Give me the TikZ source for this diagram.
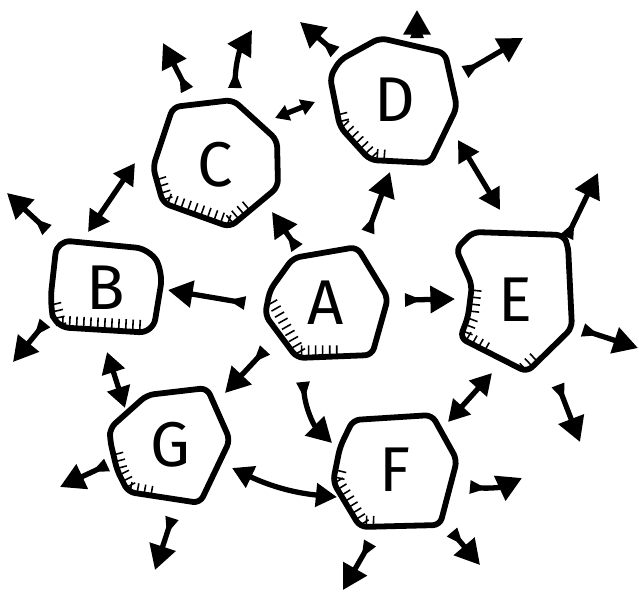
\documentclass[tikz,border=0pt]{standalone}
\usepackage{fontspec}
\setsansfont{Fira Sans}
\usetikzlibrary{arrows.meta, calc, decorations.pathreplacing}

\begin{document}
\begin{tikzpicture}[x=0.02cm, y=0.02cm,
  letter/.style={circle, inner sep=0pt, minimum size=2cm,
                 font=\sffamily\fontsize{36}{36}\selectfont},
  blob/.style={line width=3.3pt, line join=round, rounded corners=4pt},
  hatch/.style={line width=0.9pt, decorate,
                decoration={border, segment length=4pt, amplitude=6pt, angle=90}},
  arrow/.style={line width=3pt,
                {Triangle[reversed, length=10pt, width=7pt]}-{Triangle[length=14pt, width=15pt]}},
  twoway/.style={line width=3pt,
                 {Triangle[length=12pt, width=13pt]}-{Triangle[length=12pt, width=13pt]}}
]
\useasboundingbox (0,0) rectangle (639,-592);

% the seven nodes
\node[letter] (A) at (326,-303) {A};
\node[letter] (B) at (106,-288) {B};
\node[letter] (C) at (215,-165) {C};
\node[letter] (D) at (395,-100) {D};
\node[letter] (E) at (515,-300) {E};
\node[letter] (F) at (395,-470) {F};
\node[letter] (G) at (170,-445) {G};

% outlines
\draw[blob] (293,-258) -- (357,-247) -- (388,-298) -- (372,-355) -- (297,-358) -- (265,-315) -- (270,-290) -- cycle;
\draw[blob, rounded corners=8pt] (57,-240) -- (150,-249) -- (163,-272) -- (153,-333) -- (55,-327) -- (50,-303) -- cycle;
\draw[blob] (173,-107) -- (233,-100) -- (277,-140) -- (278,-187) -- (230,-227) -- (163,-203) -- (153,-167) -- cycle;
\draw[blob] (380,-38) -- (445,-53) -- (457,-107) -- (430,-163) -- (370,-160) -- (340,-127) -- (330,-77) -- (340,-60) -- cycle;
\draw[blob] (456,-249) -- (473,-232) -- (563,-235) -- (568,-245) -- (572,-328) -- (527,-372) -- (460,-338) -- (468,-317) -- (472,-285) -- cycle;
\draw[blob] (353,-420) -- (432,-415) -- (457,-460) -- (440,-525) -- (360,-527) -- (333,-482) -- (340,-447) -- cycle;
\draw[blob] (110,-428) -- (147,-395) -- (207,-388) -- (230,-440) -- (200,-503) -- (128,-492) -- (117,-470) -- (110,-440) -- cycle;

% shading
\draw[hatch] (268,-305) -- (297,-356) -- (350,-356);
\draw[hatch] (51,-305) -- (56,-326) -- (150,-331);
\draw[hatch] (156,-180) -- (163,-202) -- (230,-226) -- (255,-205);
\draw[hatch] (337,-115) -- (340,-127) -- (370,-159) -- (395,-161);
\draw[hatch] (471,-290) -- (468,-317) -- (460,-338) -- (495,-358);
\draw[hatch] (527,-371) -- (545,-354);
\draw[hatch] (336,-470) -- (333,-482) -- (360,-526) -- (385,-527);
\draw[hatch] (113,-455) -- (117,-470) -- (128,-492) -- (160,-498);

% out of A
\draw[arrow] ($(A)+(-81,0)$) -- ($(B)+(62,-2)$);
\draw[arrow] ($(A)+(-29,55)$) -- ($(C)+(57,-47)$);
\draw[arrow] ($(A)+(42,71)$) -- ($(D)+(-5,-72)$);
\draw[arrow] ($(A)+(79,3)$) -- ($(E)+(-60,1)$);
\draw[arrow] ($(A)+(-23,-79)$) to[bend right=20] ($(F)+(-63,27)$);
\draw[arrow] ($(A)+(-61,-47)$) -- ($(G)+(55,52)$);

% both ways round the ring
\draw[twoway] ($(B)+(-18,56)$) -- ($(C)+(-80,2)$);
\draw[twoway, {Triangle[length=8pt, width=9pt]}-{Triangle[length=8pt, width=9pt]}]
  ($(C)+(60,47)$) -- ($(D)+(-80,-2)$);
\draw[twoway] ($(D)+(63,-40)$) -- ($(E)+(-15,90)$);
\draw[twoway] ($(E)+(-23,-73)$) -- ($(F)+(53,48)$);
\draw[twoway] ($(G)+(62,-23)$) to[bend right=10] ($(F)+(-58,-27)$);
\draw[twoway] ($(B)+(1,-64)$) -- ($(G)+(-45,37)$);

% outward
\draw[arrow] ($(B)+(-59,58)$) -- ($(B)+(-99,95)$);
\draw[arrow] ($(B)+(-61,-35)$) -- ($(B)+(-93,-74)$);
\draw[arrow] ($(C)+(-28,75)$) -- ($(C)+(-52,122)$);
\draw[arrow] ($(C)+(20,77)$) to[bend left=15] ($(C)+(37,135)$);
\draw[arrow] ($(D)+(-60,48)$) -- ($(D)+(-95,78)$);
\draw[arrow] ($(D)+(22,62)$) -- ($(D)+(22,90)$);
\draw[arrow] ($(D)+(70,28)$) -- ($(D)+(128,62)$);
\draw[arrow] ($(E)+(52,63)$) -- ($(E)+(83,127)$);
\draw[arrow] ($(E)+(68,-30)$) -- ($(E)+(123,-48)$);
\draw[arrow] ($(E)+(43,-85)$) -- ($(E)+(65,-142)$);
\draw[arrow] ($(F)+(75,-17)$) to[bend right=15] ($(F)+(127,-8)$);
\draw[arrow] ($(F)+(57,-62)$) -- ($(F)+(85,-95)$);
\draw[arrow] ($(F)+(-25,-73)$) -- ($(F)+(-52,-120)$);
\draw[arrow] ($(G)+(-63,-20)$) -- ($(G)+(-110,-42)$);
\draw[arrow] ($(G)+(2,-73)$) -- ($(G)+(-15,-125)$);
\end{tikzpicture}
\end{document}
